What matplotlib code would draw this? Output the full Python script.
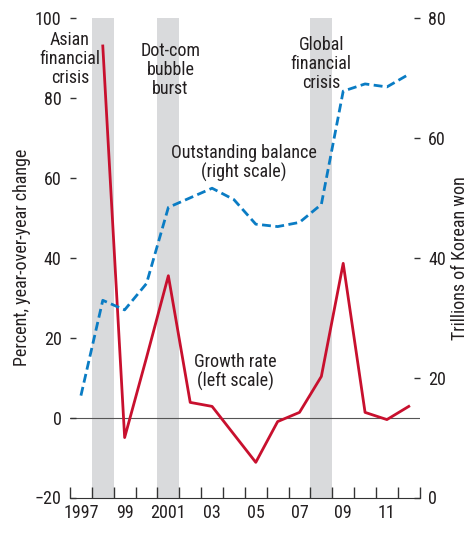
import matplotlib
matplotlib.use("Agg")
import matplotlib.pyplot as plt
import numpy as np

plt.rcParams['font.family'] = ['Roboto Condensed', 'Liberation Sans', 'DejaVu Sans']

# data
years = np.arange(1997, 2013)
growth_years = np.arange(1998, 2013)
growth_rate = [93, -5, 15, 35.5, 3.8, 2.8, -4.2, -11.2, -1, 1.3, 10.3, 38.6, 1.3, -0.5, 2.8]
balance = [17, 32.9, 31.3, 35.7, 48.4, 50, 51.6, 49.7, 45.6, 45.2, 45.9, 48.9, 67.8, 69, 68.5, 70.6]
crisis_years = [1998, 2001, 2008]
tick_years = [1997, 1999, 2001, 2003, 2005, 2007, 2009, 2011]
tick_labels = ['1997', '99', '2001', '03', '05', '07', '09', '11']

red = '#C8102E'
blue = '#0A7CC4'
gray = '#D9DADC'
txt = '#231F20'
fs = 13

fig = plt.figure(figsize=(4.71, 5.33), dpi=100)
ax = fig.add_axes([70 / 471, 35.5 / 533, 349.7 / 471, 479.5 / 533])
ax2 = ax.twinx()

# shaded crisis years
for y in crisis_years:
    ax.axvspan(y, y + 1, color=gray, lw=0, zorder=0)

ax.axhline(0, color='#555555', lw=0.8, zorder=1)
ax.plot(growth_years + 0.5, growth_rate, color=red, lw=2, zorder=3)
ax2.plot(years + 0.5, balance, color=blue, lw=2, ls=(0, (3.2, 1.6)), zorder=3)

ax.set_xlim(1997, 2013)
ax.set_ylim(-20, 100)
ax2.set_ylim(0, 80)
ax.set_yticks(range(-20, 101, 20))
ax.set_yticklabels(['\u221220', '0', '20', '40', '60', '80', '100'])
ax2.set_yticks(range(0, 81, 20))

ax.set_xticks(range(1997, 2014))
ax.set_xticklabels([])
ax.set_xticks([y + 0.5 for y in tick_years], minor=True)
ax.set_xticklabels(tick_labels, minor=True)
ax.tick_params(axis='x', which='major', direction='in', length=8, width=1, color='#333333')
ax.tick_params(axis='x', which='minor', length=0, labelsize=fs, pad=5, labelcolor=txt)
ax.tick_params(axis='y', direction='in', length=4, width=1, labelsize=fs, pad=6,
               color='#333333', labelcolor=txt)
ax2.tick_params(axis='y', direction='in', length=4, width=1, labelsize=fs, pad=6,
                color='#333333', labelcolor=txt)

for a in (ax, ax2):
    for s in ('top', 'left', 'right'):
        a.spines[s].set_visible(False)
ax2.spines['bottom'].set_visible(False)
ax.spines['bottom'].set_color('#333333')

ax.set_ylabel('Percent, year-over-year change', fontsize=fs, labelpad=3, color=txt)
ax2.set_ylabel('Trillions of Korean won', fontsize=fs, labelpad=4, color=txt)

# annotations
kw = dict(ha='center', va='center', fontsize=fs, linespacing=1.05, color=txt, zorder=4)
ax.text(1997.0, 89.7, 'Asian\nfinancial\ncrisis', **kw)
ax.text(2001.6, 87, 'Dot-com\nbubble\nburst', **kw)
ax.text(2008.5, 88.5, 'Global\nfinancial\ncrisis', **kw)
ax.text(2004.95, 63.6, 'Outstanding balance\n(right scale)', **kw)
ax.text(2004.55, 11.4, 'Growth rate\n(left scale)', **kw)

fig.savefig('out.png', dpi=100)
